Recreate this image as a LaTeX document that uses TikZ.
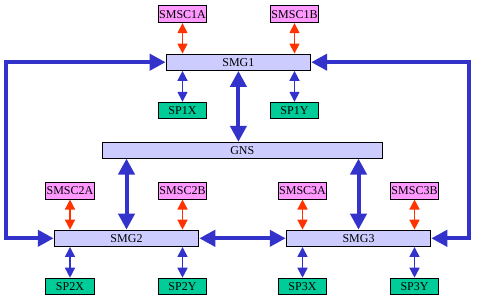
\documentclass[tikz,border=0pt]{standalone}
\usepackage{fontspec}
\setmainfont{Liberation Serif}
\usetikzlibrary{arrows.meta}
\definecolor{smscfill}{HTML}{FF99FF}
\definecolor{spfill}{HTML}{00CC99}
\definecolor{smgfill}{HTML}{CCCCFF}
\definecolor{linkblue}{HTML}{3333CC}
\definecolor{linkred}{HTML}{FF3300}
\tikzset{
  box/.style={draw=black, line width=1pt, inner sep=0pt, font=\fontsize{12}{14}\selectfont},
  smsc/.style={box, fill=smscfill, minimum width=48.4pt, minimum height=16.7pt},
  sp/.style={box, fill=spfill, minimum width=48.4pt, minimum height=16pt},
  smg/.style={box, fill=smgfill, minimum width=144.5pt, minimum height=16.3pt},
  gns/.style={box, fill=smgfill, minimum width=280pt, minimum height=15.7pt},
  thinred/.style={draw=linkred, line width=1.5pt, {Triangle[length=10pt,width=10pt]}-{Triangle[length=10pt,width=10pt]}},
  thinblue/.style={draw=linkblue, line width=1.5pt, {Triangle[length=10pt,width=10pt]}-{Triangle[length=10pt,width=10pt]}},
  thick/.style={draw=linkblue, line width=4pt, {Triangle[length=16pt,width=16pt]}-{Triangle[length=16pt,width=16pt]}},
}
\begin{document}
\begin{tikzpicture}[x=1pt, y=-1pt]
\useasboundingbox (0,0) rectangle (478,301);

% top gateway and its neighbours
\node[smsc] (smsc1a) at (182.5,14.3) {SMSC1A};
\node[smsc] (smsc1b) at (294.5,14.3) {SMSC1B};
\node[smg]  (smg1)   at (238.4,62.2) {SMG1};
\node[sp]   (sp1x)   at (182.5,110.3) {SP1X};
\node[sp]   (sp1y)   at (294.5,110.3) {SP1Y};

% central node
\node[gns]  (gns)    at (242.3,150.2) {GNS};

% lower gateways
\node[smsc] (smsc2a) at (70,190.7)    {SMSC2A};
\node[smsc] (smsc2b) at (182.5,190.7) {SMSC2B};
\node[smsc] (smsc3a) at (302.5,190.7) {SMSC3A};
\node[smsc] (smsc3b) at (414.5,190.7) {SMSC3B};
\node[smg]  (smg2)   at (126.5,238.3) {SMG2};
\node[smg]  (smg3)   at (358.5,238.3) {SMG3};
\node[sp]   (sp2x)   at (70,286.2)    {SP2X};
\node[sp]   (sp2y)   at (182.5,286.2) {SP2Y};
\node[sp]   (sp3x)   at (302.5,286.2) {SP3X};
\node[sp]   (sp3y)   at (414.5,286.2) {SP3Y};

% SMSC links
\draw[thinred] (smsc1a.south) -- (smsc1a.south |- smg1.north);
\draw[thinred] (smsc1b.south) -- (smsc1b.south |- smg1.north);
\draw[thinred] (smsc2a.south) -- (smsc2a.south |- smg2.north);
\draw[thinred] (smsc2b.south) -- (smsc2b.south |- smg2.north);
\draw[thinred] (smsc3a.south) -- (smsc3a.south |- smg3.north);
\draw[thinred] (smsc3b.south) -- (smsc3b.south |- smg3.north);

% SP links
\draw[thinblue] (sp1x.north |- smg1.south) -- (sp1x.north);
\draw[thinblue] (sp1y.north |- smg1.south) -- (sp1y.north);
\draw[thinblue] (sp2x.north |- smg2.south) -- (sp2x.north);
\draw[thinblue] (sp2y.north |- smg2.south) -- (sp2y.north);
\draw[thinblue] (sp3x.north |- smg3.south) -- (sp3x.north);
\draw[thinblue] (sp3y.north |- smg3.south) -- (sp3y.north);

% gateway trunks
\draw[thick] (smg1.south) -- (smg1.south |- gns.north);
\draw[thick] (gns.south -| smg2.north) -- (smg2.north);
\draw[thick] (gns.south -| smg3.north) -- (smg3.north);
\draw[thick] (smg2.east) -- (smg3.west);

% outer loops
\coordinate (loopl) at (6,0);
\coordinate (loopr) at (468.7,0);
\draw[thick, line join=miter] (smg1.west) -- (loopl |- smg1.west) -- (loopl |- smg2.west) -- (smg2.west);
\draw[thick, line join=miter] (smg1.east) -- (loopr |- smg1.east) -- (loopr |- smg3.east) -- (smg3.east);
\end{tikzpicture}
\end{document}
